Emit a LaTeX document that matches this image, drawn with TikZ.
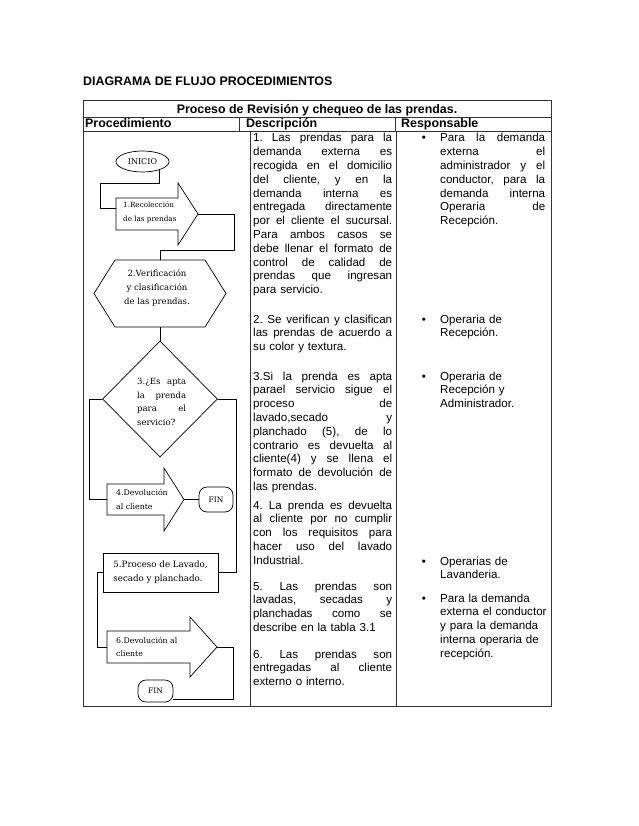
\documentclass[tikz,border=0pt]{standalone}
\usepackage{fontspec}
\setmainfont{Liberation Sans}
\newfontfamily\flowfont{DejaVu Serif}
\usetikzlibrary{shapes.geometric}
\newcommand{\jw}[2]{\makebox[#1][s]{\frenchspacing\spaceskip=0pt\xspaceskip=0pt\relax #2}}
\newcommand{\jd}[1]{\jw{139pt}{#1}}
\newcommand{\jr}[1]{\jw{105pt}{#1}}
\begin{document}
\begin{tikzpicture}[x=1pt,y=-1pt,
 tbl/.style={draw=black!80, line width=0.9pt},
 fl/.style={draw=black, line width=0.7pt},
 conn/.style={draw=black, line width=0.7pt},
 hdr/.style={inner sep=0pt, font=\bfseries\fontsize{12.4}{14}\selectfont},
 desc/.style={anchor=base west, inner sep=0pt, text width=150pt, font=\fontsize{11.6}{13.8}\selectfont\frenchspacing},
 resp/.style={anchor=base west, inner sep=0pt, text width=140pt, font=\fontsize{11.6}{13.8}\selectfont\frenchspacing},
 bul/.style={anchor=base, inner sep=0pt, font=\fontsize{11.6}{13.8}\selectfont},
 ftxt/.style={anchor=base west, inner sep=0pt, align=left},
 ]
\useasboundingbox[fill=white] (0,0) rectangle (638,826);

% ---------- table ----------
\draw[tbl] (83,100) rectangle (551,706);
\draw[tbl] (83,117) -- (551,117);
\draw[tbl] (83,131) -- (551,131);
\draw[tbl] (239,117) -- (239,131);
\draw[tbl] (395,117) -- (395,131);
\draw[tbl] (250,131) -- (250,706);
\draw[tbl] (396,131) -- (396,706);

\node[hdr, anchor=base west] (title) at (83,86) {DIAGRAMA DE FLUJO PROCEDIMIENTOS};
\node[hdr, anchor=base] (proc) at (317,114) {Proceso de Revisión y chequeo de las prendas.};
\node[hdr, anchor=base west] (h1) at (85,128) {Procedimiento};
\node[hdr, anchor=base west] (h2) at (246,128) {Descripción};
\node[hdr, anchor=base west] (h3) at (401,128) {Responsable};

% ---------- description ----------
\node[desc] (p1) at (253,142) {\noindent\jd{1. Las prendas para la}\\\jd{demanda externa es}\\\jd{recogida en el domicilio}\\\jd{del cliente, y en la}\\\jd{demanda interna es}\\\jd{entregada directamente}\\\jd{por el cliente el sucursal.}\\\jd{Para ambos casos se}\\\jd{debe llenar el formato de}\\\jd{control de calidad de}\\\jd{prendas que ingresan}\\para servicio.};
\node[desc] (p2) at (253,323) {\noindent\jd{2. Se verifican y clasifican}\\\jd{las prendas de acuerdo a}\\su color y textura.};
\node[desc] (p3) at (253,380) {\noindent\jd{3.Si la prenda es apta}\\\jd{parael servicio sigue el}\\\jd{proceso de}\\\jd{lavado,secado y}\\\jd{planchado (5), de lo}\\\jd{contrario es devuelta al}\\\jd{cliente(4) y se llena el}\\\jd{formato de devolución de}\\las prendas.};
\node[desc] (p4) at (253,509) {\noindent\jd{4. La prenda es devuelta}\\\jd{al cliente por no cumplir}\\\jd{con los requisitos para}\\\jd{hacer uso del lavado}\\Industrial.};
\node[desc] (p5) at (253,590) {\noindent\jd{5. Las prendas son}\\\jd{lavadas, secadas y}\\\jd{planchadas como se}\\describe en la tabla 3.1};
\node[desc] (p6) at (253,658) {\noindent\jd{6. Las prendas son}\\\jd{entregadas al cliente}\\externo o interno.};

% ---------- responsable ----------
\node[bul] (b1) at (424,142) {•};
\node[resp] (r1) at (440,142) {\noindent\jr{Para la demanda}\\\jr{externa el}\\\jr{administrador y el}\\\jr{conductor, para la}\\\jr{demanda interna}\\\jr{Operaria de}\\Recepción.};
\node[bul] (b2) at (424,323) {•};
\node[resp] (r2) at (440,323) {\noindent Operaria de\\Recepción.};
\node[bul] (b3) at (424,380) {•};
\node[resp] (r3) at (440,380) {\noindent Operaria de\\Recepción y\\Administrador.};
\node[bul] (b4) at (424,565) {•};
\node[resp] (r4) at (440,565) {\noindent Operarias de\\Lavanderia.};
\node[bul] (b5) at (424,602) {•};
\node[resp] (r5t) at (440,602) {\noindent Para la demanda\\externa el conductor\\y para la demanda\\interna operaria de\\recepción.};

% ---------- flowchart ----------
\node[ellipse, fl, minimum width=53pt, minimum height=21pt, inner sep=0pt, font=\flowfont\fontsize{8}{9}\selectfont] (inicio) at (142.5,161.5) {INICIO};

% arrow 1
\draw[fl] (116,198) -- (178,198) -- (178,183) -- (198,214) -- (178,245) -- (178,230) -- (116,230) -- cycle;
\coordinate (a1in) at (116,208);
\coordinate (a1tip) at (198,214);
\node[ftxt, font=\flowfont\fontsize{7.2}{14}\selectfont] (t1) at (123,222) {1.Recolección\\de las prendas};

% hexagon 2
\draw[fl] (115,260) -- (205,260) -- (226,293.5) -- (205,327) -- (115,327) -- (94,293.5) -- cycle;
\coordinate (hextop) at (160,260);
\coordinate (hexbot) at (160,327);
\node[inner sep=0pt, align=center, anchor=base, font=\flowfont\fontsize{8.5}{14}\selectfont] (t2) at (157,304) {2.Verificación\\y clasificación\\de las prendas.};

% diamond 3
\node[diamond, fl, minimum width=115pt, minimum height=116pt, inner sep=0pt] (dia) at (160,399) {};
\node[ftxt, font=\flowfont\fontsize{8.5}{13.4}\selectfont] (t3) at (137,425) {\jw{49pt}{3.¿Es apta}\\\jw{49pt}{la prenda}\\\jw{49pt}{para el}\\servicio?};

% arrow 4
\draw[fl] (107,484) -- (164,484) -- (164,468) -- (184,499.5) -- (164,531) -- (164,515) -- (107,515) -- cycle;
\coordinate (a4in) at (107,499.5);
\coordinate (a4tip) at (184,499.5);
\node[ftxt, font=\flowfont\fontsize{7.8}{14}\selectfont] (t4) at (116,509) {4.Devolución\\al cliente};
\node[fl, rounded corners=8pt, minimum width=34pt, minimum height=25pt, inner sep=0pt, font=\flowfont\fontsize{7.5}{9}\selectfont] (fin1) at (216,499.5) {FIN};

% rectangle 5
\node[fl, rectangle, minimum width=115pt, minimum height=39pt, inner sep=0pt, align=left, font=\flowfont\fontsize{8.7}{14}\selectfont] (r5) at (160.5,572.5) {5.Proceso de Lavado,\\secado y planchado.};

% arrow 6
\draw[fl] (107,631) -- (190,631) -- (190,617) -- (217,647) -- (190,677) -- (190,663) -- (107,663) -- cycle;
\coordinate (a6in) at (107,647);
\coordinate (a6tip) at (217,647);
\node[ftxt, font=\flowfont\fontsize{7.8}{13.5}\selectfont] (t6) at (116,656.5) {6.Devolución al\\cliente};
\node[fl, rounded corners=8pt, minimum width=35pt, minimum height=22pt, inner sep=0pt, font=\flowfont\fontsize{7.5}{9}\selectfont] (fin2) at (155.5,691) {FIN};

% bends
\coordinate (k1) at (100,183);
\coordinate (k2) at (234,250);
\coordinate (k3) at (89,499.5);
\coordinate (k4) at (236,572.5);
\coordinate (k5) at (97,647);
\coordinate (k6) at (233,699);

% connectors
\draw[conn] (inicio.-26) |- (k1) |- (a1in);
\draw[conn] (a1tip) -| (k2) -| (hextop);
\draw[conn] (hexbot) -- (dia.north);
\draw[conn] (dia.west) -| (k3) -- (a4in);
\draw[conn] (a4tip) -- (fin1.west);
\draw[conn] (dia.east) -| (k4) -- (r5.east);
\draw[conn] (r5.west) -| (k5) -- (a6in);
\draw[conn] (a6tip) -| (k6) -- (k6 -| fin2.east);
\end{tikzpicture}
\end{document}
